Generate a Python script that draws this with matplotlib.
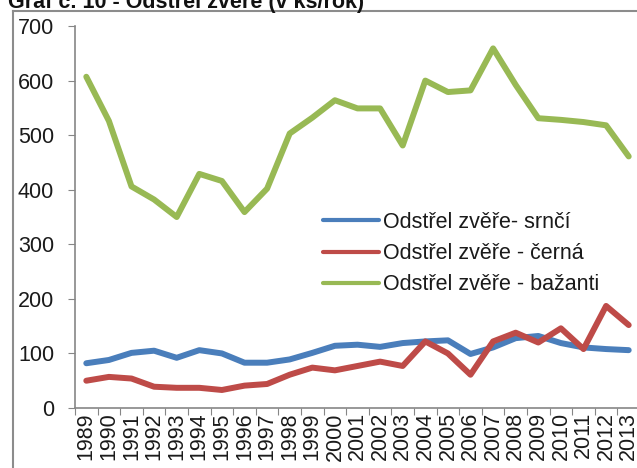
import numpy as np
import matplotlib
matplotlib.use('Agg')
import matplotlib.pyplot as plt
from matplotlib.lines import Line2D

# roky a hodnoty odstrelu
years = [str(y) for y in range(1989, 2014)]
srnci = [82, 88, 101, 105, 92, 106, 100, 83, 83, 89, 101, 114, 116, 112, 119,
         122, 124, 99, 111, 128, 132, 119, 111, 108, 106]
cerna = [50, 57, 54, 39, 37, 37, 33, 41, 44, 61, 74, 69, 77, 85, 77,
         122, 100, 61, 122, 138, 120, 146, 108, 187, 152]
bazanti = [607, 526, 406, 382, 350, 429, 416, 359, 402, 503, 532, 564, 549, 549, 481,
           600, 579, 582, 659, 592, 531, 528, 524, 518, 461]
labels = ['Odstřel zvěře- srnčí', 'Odstřel zvěře - černá', 'Odstřel zvěře - bažanti']
colors = ['#4A7EBB', '#BE4B48', '#98B954']
yticks = [0, 100, 200, 300, 400, 500, 600, 700]

plt.rcParams['font.family'] = ['Liberation Sans', 'DejaVu Sans']
fs = 15.5

fig = plt.figure(figsize=(6.37, 4.68), dpi=100)
W, H = 637, 468
ax = fig.add_axes([75 / W, 60 / H, 565 / W, 382 / H])

x = np.arange(len(years))
for vals, lab, c in zip([srnci, cerna, bazanti], labels, colors):
    ax.plot(x, vals, color=c, lw=4.3, label=lab, solid_capstyle='round', solid_joinstyle='round')

ax.set_xlim(-0.5, len(years) - 0.5)
ax.set_ylim(0, 700)
ax.set_yticks(yticks)
ax.set_yticklabels([str(v) for v in yticks])
ax.set_xticks(np.arange(-0.5, len(years)), labels=[])
ax.set_xticks(x, labels=years, minor=True, rotation=90)
ax.tick_params(axis='x', which='major', length=5, color='#868686', direction='out')
ax.tick_params(axis='x', which='minor', length=0, pad=3, labelsize=fs, labelcolor='#1a1a1a')
ax.tick_params(axis='y', length=5, color='#868686', pad=10, labelsize=fs, labelcolor='#1a1a1a')
for s in ['top', 'right']:
    ax.spines[s].set_visible(False)
for s in ['left', 'bottom']:
    ax.spines[s].set_color('#868686')
    ax.spines[s].set_linewidth(1.2)

leg = ax.legend(loc='upper left', bbox_to_anchor=(323 / W, 1 - 212 / H),
                bbox_transform=fig.transFigure, frameon=False, fontsize=fs,
                handlelength=2.6, handletextpad=0.2, labelspacing=0.47,
                borderpad=0, borderaxespad=0)
for h in leg.get_lines():
    h.set_linewidth(3)
for t in leg.get_texts():
    t.set_color('#1a1a1a')

# ramecek a orezany titulek
fig.add_artist(Line2D([13 / W, 13 / W], [0, 1 - 11 / H], color='#8c8c8c', lw=1.5))
fig.add_artist(Line2D([13 / W, 1], [1 - 11 / H, 1 - 11 / H], color='#8c8c8c', lw=1.5))
fig.text(8 / W, 1 - 8 / H, 'Graf č. 10 - Odstřel zvěře (v ks/rok)', fontsize=fs,
         fontweight='bold', va='baseline', ha='left', color='#111111')

fig.savefig('out.png', dpi=100)
